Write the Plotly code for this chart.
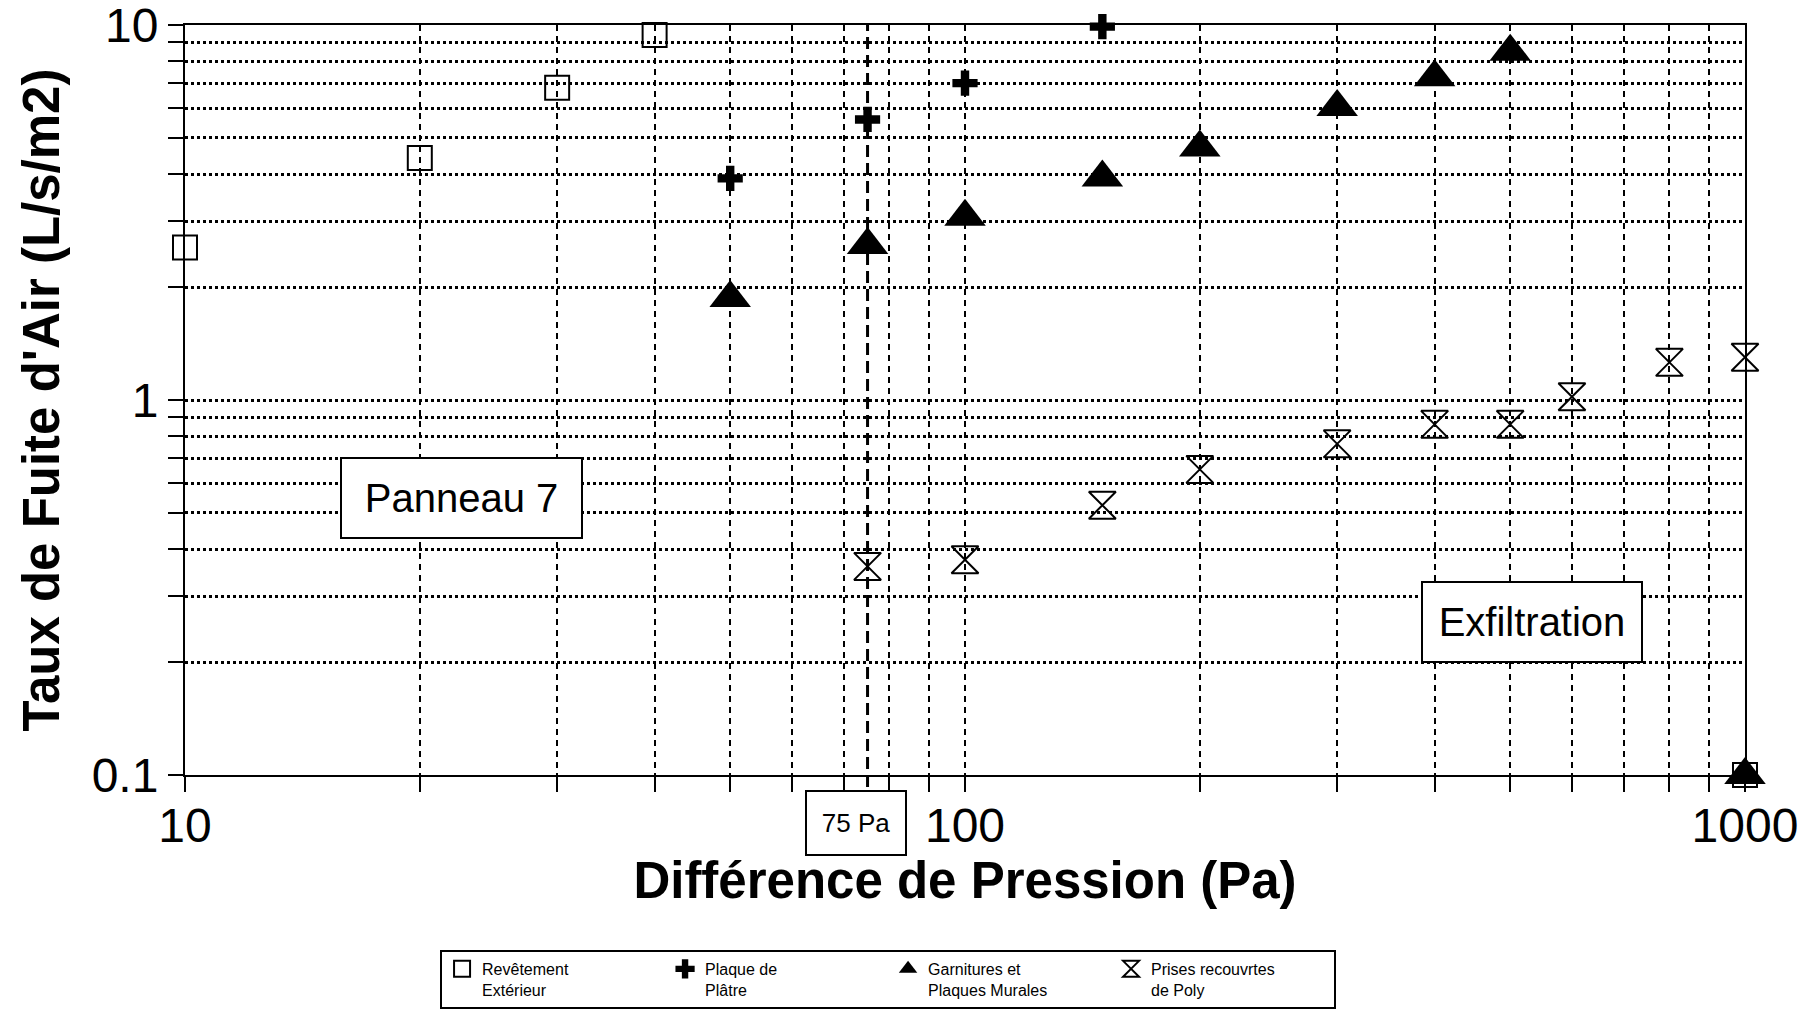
import plotly.graph_objects as go

# ---- data ----
rev_x = [10, 20, 30, 40, 1000]
rev_y = [2.55, 4.42, 6.8, 9.4, 0.1]

plaque_x = [50, 75, 100, 150]
plaque_y = [3.9, 5.6, 7.0, 9.9]

garn_x = [50, 75, 100, 150, 200, 300, 400, 500, 1000]
garn_y = [1.87, 2.59, 3.08, 3.92, 4.71, 6.04, 7.26, 8.49, 0.1]

prises_x = [75, 100, 150, 200, 300, 400, 500, 600, 800, 1000]
prises_y = [0.36, 0.375, 0.524, 0.653, 0.764, 0.861, 0.861, 1.02, 1.26, 1.30]

x_ticks = [10, 20, 30, 40, 50, 60, 70, 80, 90, 100, 200, 300, 400, 500, 600, 700, 800, 900, 1000]
x_labels = ["10", "", "", "", "", "", "", "", "", "100", "", "", "", "", "", "", "", "", "1000"]
y_ticks = [0.1, 0.2, 0.3, 0.4, 0.5, 0.6, 0.7, 0.8, 0.9, 1, 2, 3, 4, 5, 6, 7, 8, 9, 10]
y_labels = ["0.1", "", "", "", "", "", "", "", "", "1", "", "", "", "", "", "", "", "", "10"]

ref_pressure = 75

FONT = "Liberation Sans, Arial, Helvetica, sans-serif"

fig = go.Figure()
fig.add_trace(go.Scatter(x=rev_x, y=rev_y, mode="markers", name="Revêtement<br>Extérieur",
                         marker=dict(symbol="square-open", size=24, color="black", line=dict(width=2, color="black")),
                         cliponaxis=False))
fig.add_trace(go.Scatter(x=plaque_x, y=plaque_y, mode="markers", name="Plaque de<br>Plâtre",
                         marker=dict(symbol="cross", size=21, color="black", line=dict(width=0)),
                         cliponaxis=False))
fig.add_trace(go.Scatter(x=garn_x, y=garn_y, mode="markers", name="Garnitures et<br>Plaques Murales",
                         marker=dict(symbol="triangle-up", size=36, color="black", line=dict(width=0)),
                         cliponaxis=False))
fig.add_trace(go.Scatter(x=prises_x, y=prises_y, mode="markers", name="Prises recouvrtes<br>de Poly",
                         marker=dict(symbol="hourglass-open", size=27, color="black", line=dict(width=2, color="black")),
                         cliponaxis=False))

# 75 Pa reference line
fig.add_shape(type="line", xref="x", yref="paper", x0=ref_pressure, x1=ref_pressure, y0=-0.016, y1=1,
              line=dict(color="black", width=3, dash="12px,6px"), layer="above")

fig.update_xaxes(type="log", range=[1, 3], tickvals=x_ticks, ticktext=x_labels,
                 showgrid=True, gridcolor="black", gridwidth=2, griddash="6px,5px",
                 showline=True, linecolor="black", linewidth=2, mirror=True,
                 ticks="outside", ticklen=15, tickwidth=2, tickcolor="black",
                 tickfont=dict(family=FONT, size=48, color="black"),
                 ticklabelstandoff=-8, ticklabeloverflow="allow",
                 title=dict(text="Différence de Pression (Pa)", standoff=8,
                            font=dict(family=FONT, size=51, color="black", weight="bold")),
                 zeroline=False)
fig.update_yaxes(type="log", range=[-1, 1], tickvals=y_ticks, ticktext=y_labels,
                 showgrid=True, gridcolor="black", gridwidth=2.5, griddash="3px,3px",
                 showline=True, linecolor="black", linewidth=2, mirror=True,
                 ticks="outside", ticklen=15, tickwidth=2, tickcolor="black",
                 tickfont=dict(family=FONT, size=48, color="black"),
                 ticklabeloverflow="allow",
                 title=dict(text="Taux de Fuite d'Air (L/s/m2)", standoff=16,
                            font=dict(family=FONT, size=51, color="black", weight="bold")),
                 zeroline=False)

box_font = dict(family=FONT, size=40, color="black")
fig.add_annotation(text="Panneau 7", xref="paper", yref="paper", x=0.1772, y=0.3693,
                   xanchor="center", yanchor="middle", showarrow=False, font=box_font,
                   width=239, height=78, borderpad=0, bordercolor="black", borderwidth=2, bgcolor="white")
fig.add_annotation(text="Exfiltration", xref="paper", yref="paper", x=0.8635, y=0.204,
                   xanchor="center", yanchor="middle", showarrow=False, font=box_font,
                   width=218, height=78, borderpad=0, bordercolor="black", borderwidth=2, bgcolor="white")
fig.add_annotation(text="75 Pa", xref="paper", yref="paper", x=0.4301, y=-0.064,
                   xanchor="center", yanchor="middle", showarrow=False,
                   font=dict(family=FONT, size=26, color="black"),
                   width=98, height=62, borderpad=0, bordercolor="black", borderwidth=2, bgcolor="white")

fig.update_layout(
    width=1814, height=1010,
    margin=dict(l=185, r=69, t=25, b=235, autoexpand=False),
    paper_bgcolor="white", plot_bgcolor="white",
    showlegend=True,
    legend=dict(orientation="h", x=0.1635, y=-0.2333, xanchor="left", yanchor="top",
                bordercolor="black", borderwidth=2, bgcolor="white",
                font=dict(family=FONT, size=16, color="black"),
                entrywidth=178, entrywidthmode="pixels", itemsizing="trace",
                tracegroupgap=0, valign="top"),
)

fig.write_html("out.html")
